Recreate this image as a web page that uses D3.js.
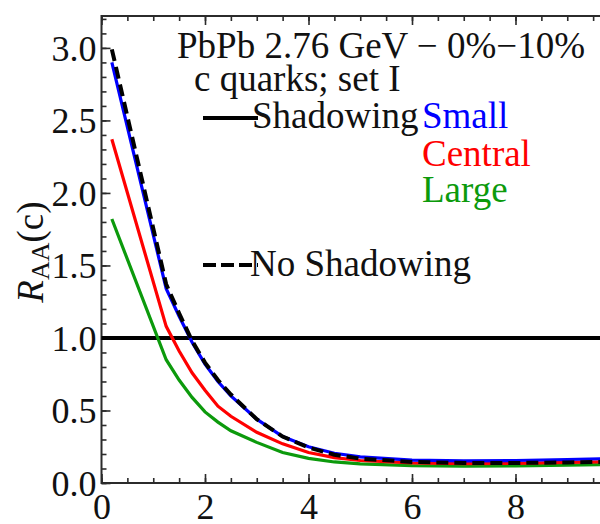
<!DOCTYPE html>
<html>
<head>
<meta charset="utf-8">
<script src="https://cdn.jsdelivr.net/npm/d3@7"></script>
<style>
  html, body { margin: 0; padding: 0; background: #fff; }
  svg { display: block; }
</style>
</head>
<body>
<svg id="chart" width="600" height="524"></svg>
<script>
// ---- data ----
const pT        = [0.2, 1.25, 1.5, 1.75, 2.0, 2.25, 2.5, 3.0, 3.5, 4.0, 4.5, 5.0, 6.0, 7.0, 8.0, 9.0, 10.0];
const small     = [2.90, 1.34, 1.15, 0.97, 0.82, 0.70, 0.60, 0.44, 0.32, 0.25, 0.205, 0.18, 0.158, 0.152, 0.155, 0.162, 0.170];
const central   = [2.37, 1.08, 0.91, 0.76, 0.64, 0.53, 0.46, 0.35, 0.27, 0.21, 0.175, 0.155, 0.138, 0.133, 0.136, 0.142, 0.148];
const large     = [1.82, 0.85, 0.71, 0.59, 0.49, 0.42, 0.36, 0.28, 0.21, 0.17, 0.145, 0.132, 0.12, 0.116, 0.118, 0.123, 0.128];
const noShadow  = [2.99, 1.37, 1.17, 0.98, 0.83, 0.71, 0.61, 0.44, 0.32, 0.245, 0.195, 0.168, 0.145, 0.138, 0.138, 0.142, 0.146];
const xMajorTicks = [0, 2, 4, 6, 8, 10];
const yMajorTicks = [0.0, 0.5, 1.0, 1.5, 2.0, 2.5, 3.0];
const titleLines = ["PbPb 2.76 GeV \u2212 0%\u221210%", "c quarks; set I"];
const legendKinds = ["Shadowing", "No Shadowing"];
const legendSizes = ["Small", "Central", "Large"];

// ---- layout ----
const svg = d3.select("#chart");
const plotLeft = 101.5, plotTop = 16, plotBottom = 483;
const x = d3.scaleLinear().domain([0, 10]).range([plotLeft, plotLeft + 517.5]);
const y = d3.scaleLinear().domain([0, 3.22]).range([plotBottom, plotTop]);
const serif = "'Liberation Serif', 'Times New Roman', serif";
const frameColor = "#2b2b2b";
const colors = { Small: "#0000ff", Central: "#ff0000", Large: "#0c9a0c" };

// frame
svg.append("rect")
  .attr("x", x(0)).attr("y", y(3.22))
  .attr("width", x(10) - x(0)).attr("height", y(0) - y(3.22))
  .attr("fill", "none").attr("stroke", frameColor).attr("stroke-width", 2);

// ticks helper
function styleAxis(g) {
  g.select(".domain").remove();
  g.selectAll(".tick line").attr("stroke", frameColor).attr("stroke-width", 1.6);
  g.selectAll("text").attr("font-family", serif).attr("font-size", 36).attr("fill", "#111");
}
const xMinor = d3.range(0, 10.01, 0.5);
const yMinor = d3.range(0, 3.21, 0.1);

// bottom
svg.append("g").attr("transform", `translate(0,${y(0)})`)
  .call(d3.axisBottom(x).tickValues(xMinor).tickSize(-5).tickFormat(""))
  .call(styleAxis);
svg.append("g").attr("transform", `translate(0,${y(0)})`)
  .call(d3.axisBottom(x).tickValues(xMajorTicks).tickSize(-9).tickPadding(0).tickFormat(d3.format("d")))
  .call(styleAxis)
  .call(g => g.selectAll("text").attr("y", 36).attr("dy", 0));
// top
svg.append("g").attr("transform", `translate(0,${y(3.22)})`)
  .call(d3.axisTop(x).tickValues(xMinor).tickSize(-5).tickFormat(""))
  .call(styleAxis);
svg.append("g").attr("transform", `translate(0,${y(3.22)})`)
  .call(d3.axisTop(x).tickValues(xMajorTicks).tickSize(-9).tickFormat(""))
  .call(styleAxis);
// left
svg.append("g").attr("transform", `translate(${x(0)},0)`)
  .call(d3.axisLeft(y).tickValues(yMinor).tickSize(-5).tickFormat(""))
  .call(styleAxis);
svg.append("g").attr("transform", `translate(${x(0)},0)`)
  .call(d3.axisLeft(y).tickValues(yMajorTicks).tickSize(-9).tickPadding(0).tickFormat(d3.format(".1f")))
  .call(styleAxis)
  .call(g => g.selectAll("text").attr("x", -5).attr("dy", "0.34em"));

// reference line at 1
svg.append("line")
  .attr("x1", x(0)).attr("x2", x(10)).attr("y1", y(1)).attr("y2", y(1))
  .attr("stroke", "#000").attr("stroke-width", 4);

// curves
const line = d3.line().x((d, i) => x(pT[i])).y(d => y(d));
const curves = [
  { vals: large, color: colors.Large, w: 3.2, dash: null },
  { vals: central, color: colors.Central, w: 3.2, dash: null },
  { vals: small, color: colors.Small, w: 3.2, dash: null },
  { vals: noShadow, color: "#000", w: 4, dash: "12,6" }
];
curves.forEach(c => {
  svg.append("path").datum(c.vals)
    .attr("d", line)
    .attr("fill", "none").attr("stroke", c.color)
    .attr("stroke-width", c.w)
    .attr("stroke-dasharray", c.dash);
});

// title
const tText = svg.append("g").attr("font-family", serif).attr("font-size", 37).attr("fill", "#111");
tText.append("text").attr("x", 177).attr("y", 58).text(titleLines[0]);
tText.append("text").attr("x", 194).attr("y", 91).text(titleLines[1]);

// legend: line styles
svg.append("line").attr("x1", 203).attr("x2", 258).attr("y1", 118).attr("y2", 118)
  .attr("stroke", "#000").attr("stroke-width", 4);
tText.append("text").attr("x", 252).attr("y", 128).text(legendKinds[0]);
svg.append("line").attr("x1", 203).attr("x2", 258).attr("y1", 265).attr("y2", 265)
  .attr("stroke", "#000").attr("stroke-width", 4).attr("stroke-dasharray", "13,5");
tText.append("text").attr("x", 250).attr("y", 276).text(legendKinds[1]);

// legend: sizes
const sizeY = [128, 166, 202];
legendSizes.forEach((s, i) => {
  svg.append("text").attr("x", 422).attr("y", sizeY[i])
    .attr("font-family", serif).attr("font-size", 37)
    .attr("fill", colors[s]).text(s);
});

// y label
const yl = svg.append("text")
  .attr("transform", `translate(43,252) rotate(-90)`)
  .attr("text-anchor", "middle")
  .attr("font-family", serif).attr("font-size", 37).attr("fill", "#111");
yl.append("tspan").attr("font-style", "italic").text("R");
yl.append("tspan").attr("font-size", 26).attr("dy", 6).text("AA");
yl.append("tspan").attr("dy", -6).text("(c)");
</script>
</body>
</html>
